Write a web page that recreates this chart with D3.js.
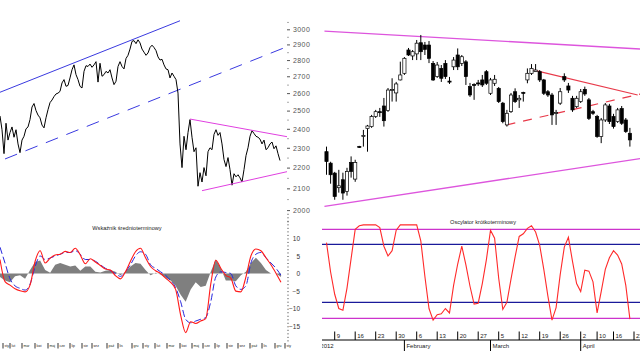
<!DOCTYPE html>
<html><head><meta charset="utf-8">
<script src="https://cdn.jsdelivr.net/npm/d3@7"></script>
<style>body{margin:0;background:#fff}svg{display:block}text{font-family:"Liberation Sans",Arial,sans-serif}</style>
</head><body><svg id="c" width="640" height="360"></svg>
<script>
// ---------- DATA ----------
// long-term index (left panel), one value per sample
const priceVals = [2470,2395,2270,2430,2340,2380,2410,2355,2395,2320,2275,2340,2360,2400,2410,2450,2520,2540,2500,2475,
2460,2420,2405,2460,2505,2545,2560,2580,2595,2600,2610,2660,2680,2640,2645,2690,2740,2770,2710,2680,
2640,2630,2730,2765,2760,2775,2755,2770,2790,2665,2780,2700,2710,2730,2720,2740,2690,2650,2670,2760,
2790,2760,2745,2810,2830,2870,2920,2925,2905,2930,2910,2870,2850,2830,2845,2880,2895,2880,2860,2820,
2800,2805,2770,2745,2740,2690,2720,2700,2680,2600,2320,2200,2360,2290,2380,2450,2355,2280,2300,2110,
2175,2130,2200,2160,2280,2300,2290,2370,2395,2365,2380,2320,2240,2205,2250,2190,2115,2170,2155,2165,
2150,2130,2190,2260,2300,2360,2390,2375,2360,2355,2345,2320,2340,2290,2300,2320,2330,2295,2310,2270,2235];
const priceTicks = [2000,2100,2200,2300,2400,2500,2600,2700,2800,2900,3000];
const priceMinor = [1950,2050,2150,2250,2350,2450,2550,2650,2750,2850,2950,3050];
// trend lines of the left panel: [sample index, value]
const leftUpperChannel = [[0,2605],[90,3058]];
const leftLowerChannel = [[2.5,2243],[141.5,2875]];
const leftTriUpper = [[95,2453],[143.5,2358]];
const leftTriLower = [[101,2089],[143.5,2180]];
// medium-term indicator
const oscRed = [4,-2.3,-3.3,-4.3,-4.9,-5.2,-3.2,3.5,6.5,3,4.4,5.3,5.5,6.3,6,7.2,5.3,2.8,4.2,3.3,2.3,1.3,1,-0.6,-1.5,0.5,3.5,6.2,7.2,4.5,2,0.8,0,-1.3,-2.5,-4.5,-11.8,-16.8,-13.7,-14.2,-13.5,-12.8,-3,3.8,1.5,-0.5,-1.3,-5,-5.2,-1,5,7,6.5,4.5,2.5,0.1,-2.5];
const oscBlue = [7.5,3,-1.5,-3.5,-4.2,-4.7,-3,2,5,4,4.4,5,5.5,6,6,6.5,5.5,4,4,3.5,2.5,1.5,0.8,0,-0.8,0.5,2.5,5,6.2,5.5,2.5,1.5,0.5,-0.5,-2,-4,-8,-13,-14,-13.5,-13,-12.5,-8,-1,0.5,0.3,0,-3.5,-4.5,-3.5,3,5.5,6,4.5,3,1.5,-0.5];
const oscHist = [-1,-2,-2.5,-0.8,-0.5,-1.5,1,3.3,3.7,1,0.2,2.5,3,2.5,2,2.3,0.8,2,2,0.5,0.3,0.8,1,0.5,-0.5,0.5,2,3,2.8,1,-0.5,0.2,-0.3,-1.2,-2,-3.5,-6,-8,-4.5,-2.5,-3.8,-3.5,0.5,4,1.5,-2,-2,-2.2,-0.5,0.5,3,4.5,3,1,0,0,-1];
const oscTicks = [10,5,0,-5,-10,-15];
const leftTickIdx = [1.5,5,11,17.5,24,29,35,41,46,53.5,59,66,71.5,77.5,83.5,90,96,101.5,107.5,113.5,119,125,131,137.5,142.5];
const leftTickLabels = ["sty","lut","mar","kwi","maj","cze","lip","sie","wrz","paź","lis","gru","sty","lut","mar","kwi","maj","cze","lip","sie","wrz","paź","lis","gru","sty"];
// daily candles (right panel), 2012
const candleOpen = [2280,2222,2173,2103,2141,2086,2226,2144,2307,2359,2401,2412,2467,2494,2526,2500,2615,2601,2678,2718,
2864,2826,2839,2911,2896,2896,2779,2698,2748,2779,2671,2758,2832,2779,2789,2638,2651,2660,2678,2728,
2599,2658,2628,2542,2421,2494,2608,2561,2604,2678,2718,2728,2728,2678,2608,2589,2484,2542,2698,2642,
2570,2522,2551,2622,2561,2494,2467,2359,2448,2526,2467,2439,2511,2448,2376];
const candleHigh = [2306,2229,2179,2189,2175,2199,2256,2239,2310,2394,2421,2476,2504,2515,2572,2630,2688,2666,2790,2819,
2877,2864,2929,2962,2916,2922,2794,2788,2769,2800,2696,2819,2874,2832,2800,2660,2658,2678,2708,2738,
2690,2708,2636,2549,2504,2601,2628,2589,2608,2748,2775,2775,2738,2684,2618,2601,2504,2630,2718,2660,
2584,2584,2624,2638,2572,2504,2476,2459,2543,2538,2482,2515,2526,2459,2405];
const candleLow = [2165,2122,2047,2080,2047,2066,2151,2131,2299,2306,2280,2405,2459,2465,2412,2493,2551,2551,2675,2708,
2826,2800,2800,2800,2832,2781,2672,2690,2666,2684,2654,2738,2738,2763,2648,2578,2561,2642,2636,2648,
2589,2642,2543,2430,2412,2487,2543,2515,2551,2658,2708,2726,2666,2589,2578,2421,2421,2532,2666,2601,
2493,2515,2543,2584,2448,2476,2352,2324,2437,2426,2401,2432,2421,2378,2306];
const candleClose = [2230,2165,2062,2112,2078,2181,2181,2226,2302,2365,2415,2467,2494,2490,2444,2618,2621,2654,2708,2811,
2832,2853,2908,2853,2868,2811,2678,2769,2688,2698,2665,2800,2758,2821,2698,2589,2645,2654,2648,2658,
2678,2682,2551,2439,2485,2589,2551,2570,2599,2718,2748,2738,2678,2599,2589,2476,2490,2608,2678,2618,
2504,2570,2608,2595,2457,2485,2359,2448,2532,2439,2412,2504,2430,2385,2341];
// trend lines of the right panel: [day index, value]
const rightUpper = [[-0.5,2988],[76.6,2870]];
const rightLower = [[-0.5,2017],[76.6,2245]];
const rightRedSolid = [[50.5,2738],[75.9,2589]];
const rightRedDash = [[43.9,2421],[76.6,2595]];
// short-term oscillator
const shortOsc = [85,52,27,11,9,34,67,100,104,105,105,105,105,102,81,70,76,99,105,105,105,105,105,87,47,11,-2,4,5,11,6,37,61,81,60,36,16,17,39,66,99,90,45,10,18,44,69,92,95,101,104,97,82,55,25,-2,12,49,80,91,64,39,30,54,53,41,6,30,55,68,76,71,61,37,-1];
const shortBandOuter = [0,100];
const shortBandInner = [18,83];
const weekTickIdx = [2,7,12,17,22,27,32,37,42,47,52,57,62,66,70,75];
const weekTickLabels = ["9","16","23","30","6","13","20","27","5","12","19","26","2","10","16","23"];
const monthTickIdx = [-2,19,40,62];
const monthLabels = ["2012","February","March","April"];

// ---------- DRAW ----------
const svg = d3.select("#c");
const xL = d3.scaleLinear().domain([0, priceVals.length-1]).range([0,280]);
const yP = d3.scaleLog().domain([2000,3000]).range([210.1,29.3]);
const xO = d3.scaleLinear().domain([0, oscRed.length-1]).range([0,281]);
const yO = d3.scaleLinear().domain([-15,10]).range([326.3,238.4]);
const xR = d3.scaleLinear().domain([0,1]).range([326.5,330.6]);
const yRO = d3.scaleLinear().domain([0,100]).range([318.3,229.3]);

function seg(g, pts, x, y, color, w, dash){
  const p = g.append("path").datum(pts)
    .attr("d", d3.line().x(d=>x(d[0])).y(d=>y(d[1])))
    .attr("fill","none").attr("stroke",color).attr("stroke-width",w);
  if(dash) p.attr("stroke-dasharray",dash);
  return p;
}

// left panel
const gL = svg.append("g");
seg(gL, leftUpperChannel, xL, yP, "#3a3ae0", 1);
seg(gL, leftLowerChannel, xL, yP, "#3a3ae0", 1, "13,9");
gL.append("path").datum(priceVals)
  .attr("d", d3.line().x((d,i)=>xL(i)).y(d=>yP(d)))
  .attr("fill","none").attr("stroke","#000").attr("stroke-width",1);
seg(gL, leftTriUpper, xL, yP, "#e040e0", 1);
seg(gL, leftTriLower, xL, yP, "#e040e0", 1);

// price axis
const ax = svg.append("g").attr("transform","translate(287,0)")
  .call(d3.axisRight(yP).tickValues(priceTicks).tickSize(3).tickPadding(3).tickFormat(d3.format("d")));
ax.select(".domain").remove();
ax.selectAll("line").attr("stroke","#555");
ax.selectAll("text").attr("font-size",7).attr("fill","#555").attr("font-family","Liberation Sans, Arial, sans-serif").style("letter-spacing","0.4px");
const axm = svg.append("g").attr("transform","translate(287.5,0)")
  .call(d3.axisRight(yP).tickValues(priceMinor).tickSize(1).tickFormat(""));
axm.select(".domain").remove();
axm.selectAll("line").attr("stroke","#555");

// left oscillator
const gO = svg.append("g");
gO.append("path").datum(oscHist)
  .attr("d", d3.area().x((d,i)=>xO(i)).y0(yO(0)).y1(d=>yO(d)))
  .attr("fill","#7f7f7f");
gO.append("path").datum(oscBlue)
  .attr("d", d3.line().x((d,i)=>xO(i)).y(d=>yO(d)).curve(d3.curveMonotoneX))
  .attr("fill","none").attr("stroke","#2626dd").attr("stroke-width",1).attr("stroke-dasharray","7,3");
gO.append("path").datum(oscRed)
  .attr("d", d3.line().x((d,i)=>xO(i)).y(d=>yO(d)).curve(d3.curveMonotoneX))
  .attr("fill","none").attr("stroke","#ff1a1a").attr("stroke-width",1.1);
const ao = svg.append("g").attr("transform","translate(288,0)")
  .call(d3.axisRight(yO).tickValues(oscTicks).tickSize(0).tickPadding(0));
ao.select(".domain").remove();
ao.selectAll("text").attr("x",12).attr("text-anchor","end").attr("font-size",6.5).attr("fill","#333").attr("font-family","Liberation Sans, Arial, sans-serif");
const aom = svg.append("g").attr("transform","translate(287.5,0)")
  .call(d3.axisRight(yO).tickValues(d3.range(-19,18)).tickSize(1).tickFormat(""));
aom.select(".domain").remove();
aom.selectAll("line").attr("stroke","#333");
svg.append("text").attr("x",127).attr("y",230).attr("text-anchor","middle")
  .attr("font-size",5.6).attr("fill","#222").text("Wskaźnik średnioterminowy");
const lt = svg.append("g");
lt.selectAll("line").data(leftTickIdx).join("line")
  .attr("x1",d=>xL(d)).attr("x2",d=>xL(d)).attr("y1",343).attr("y2",348.5)
  .attr("stroke","#000").attr("stroke-width",0.8);
lt.selectAll("text").data(leftTickLabels).join("text")
  .attr("x",(d,i)=>xL(leftTickIdx[i])+1.5).attr("y",346.5)
  .attr("font-size",3.5).attr("fill","#222").text(d=>d);

// right panel
svg.append("defs").append("clipPath").attr("id","rc").append("rect")
  .attr("x",322).attr("y",0).attr("width",318).attr("height",360);
const gR = svg.append("g").attr("clip-path","url(#rc)");
seg(gR, rightUpper, xR, yP, "#dd55dd", 1.4);
seg(gR, rightLower, xR, yP, "#dd55dd", 1.4);
seg(gR, rightRedSolid, xR, yP, "#e83a4a", 1.2);
seg(gR, rightRedDash, xR, yP, "#e83a4a", 1.2, "9,8");
const cdl = gR.append("g");
candleOpen.forEach((o,i)=>{
  const c = candleClose[i], h = candleHigh[i], l = candleLow[i];
  cdl.append("line").attr("x1",xR(i)).attr("x2",xR(i)).attr("y1",yP(h)).attr("y2",yP(l))
    .attr("stroke","#000").attr("stroke-width",1);
  const top = yP(Math.max(o,c)), bot = yP(Math.min(o,c));
  cdl.append("rect").attr("x",xR(i)-1.6).attr("width",3.2)
    .attr("y",top).attr("height",Math.max(1,bot-top))
    .attr("fill", c>=o ? "#fff" : "#000").attr("stroke","#000").attr("stroke-width",0.7);
});
// short-term oscillator
const xLine = [322,640];
shortBandOuter.forEach(v=>{
  gR.append("line").attr("x1",xLine[0]).attr("x2",xLine[1]).attr("y1",yRO(v)).attr("y2",yRO(v))
    .attr("stroke","#cc33cc").attr("stroke-width",1.3);
});
shortBandInner.forEach(v=>{
  gR.append("line").attr("x1",xLine[0]).attr("x2",xLine[1]).attr("y1",yRO(v)).attr("y2",yRO(v))
    .attr("stroke","#1a1a9a").attr("stroke-width",1.2);
});
gR.append("path").datum(shortOsc)
  .attr("d", d3.line().x((d,i)=>xR(i)).y(d=>yRO(d)))
  .attr("fill","none").attr("stroke","#ff2a2a").attr("stroke-width",1.1);
svg.append("text").attr("x",483).attr("y",223.5).attr("text-anchor","middle")
  .attr("font-size",5.6).attr("fill","#222").text("Oscylator krótkoterminowy");
// time axis
gR.append("line").attr("x1",322).attr("x2",640).attr("y1",340).attr("y2",340).attr("stroke","#000").attr("stroke-width",1);
gR.selectAll(".wt").data(weekTickIdx).join("line").attr("class","wt")
  .attr("x1",d=>xR(d)).attr("x2",d=>xR(d)).attr("y1",331.5).attr("y2",340)
  .attr("stroke","#000").attr("stroke-width",1);
gR.selectAll(".wl").data(weekTickLabels).join("text").attr("class","wl")
  .attr("x",(d,i)=>xR(weekTickIdx[i])+2).attr("y",338)
  .attr("font-size",6).attr("fill","#222").text(d=>d);
gR.selectAll(".mt").data(monthTickIdx).join("line").attr("class","mt")
  .attr("x1",d=>xR(d)).attr("x2",d=>xR(d)).attr("y1",340).attr("y2",351)
  .attr("stroke","#000").attr("stroke-width",1);
gR.selectAll(".ml").data(monthLabels).join("text").attr("class","ml")
  .attr("x",(d,i)=>xR(monthTickIdx[i])+2).attr("y",347.5)
  .attr("font-size",6).attr("fill","#222").text(d=>d);
</script></body></html>
